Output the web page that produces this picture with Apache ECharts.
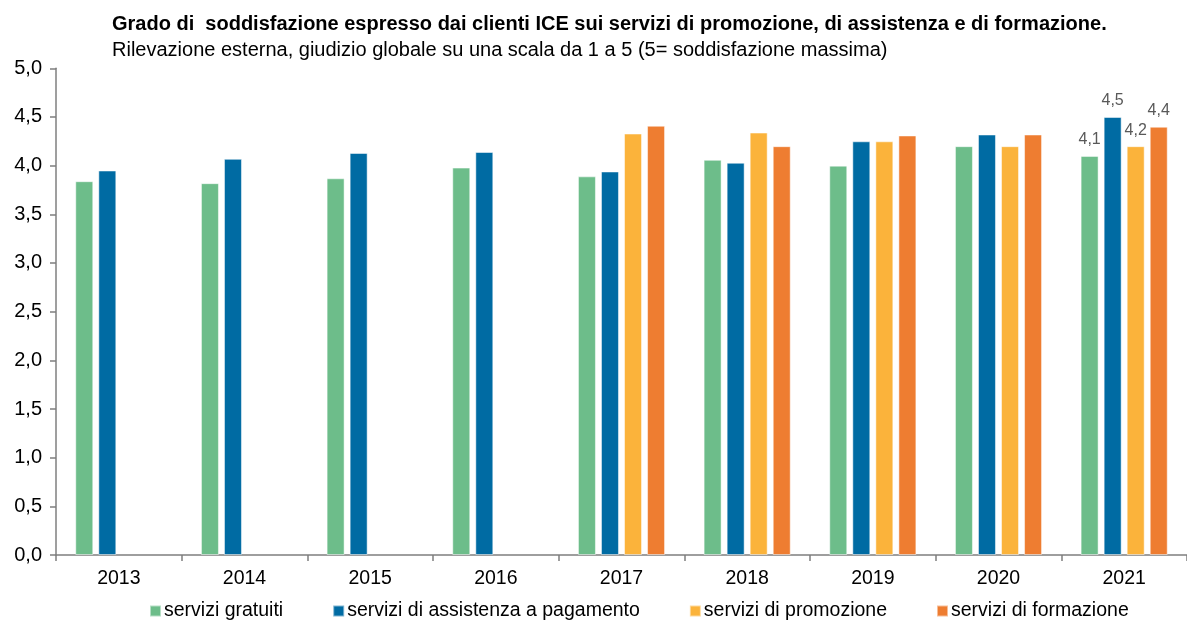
<!DOCTYPE html>
<html>
<head>
<meta charset="utf-8">
<script src="https://cdn.jsdelivr.net/npm/echarts@6/dist/echarts.min.js"></script>
<style>
  html, body { margin: 0; padding: 0; background: #fff; }
  #chart { width: 1187px; height: 624px; }
</style>
</head>
<body>
<div id="chart"></div>
<script>
// dati
const anni = ['2013', '2014', '2015', '2016', '2017', '2018', '2019', '2020', '2021'];
const gratuiti = [3.84, 3.82, 3.87, 3.98, 3.89, 4.06, 4.00, 4.20, 4.1];
const assistenza = [3.95, 4.07, 4.13, 4.14, 3.94, 4.03, 4.25, 4.32, 4.5];
const promozione = [null, null, null, null, 4.33, 4.34, 4.25, 4.20, 4.2];
const formazione = [null, null, null, null, 4.41, 4.20, 4.31, 4.32, 4.4];
const yTicks = [0, 0.5, 1, 1.5, 2, 2.5, 3, 3.5, 4, 4.5, 5];

const chart = echarts.init(document.getElementById('chart'));

const fmt = v => v.toFixed(1).replace('.', ',');

// etichette solo sull'ultimo anno
const mkSeries = (name, data, color) => ({
    name,
    type: 'bar',
    data: data.map((v, i) => ({
        value: v,
        label: {
            show: i === data.length - 1,
            position: 'top',
            distance: 8,
            color: '#595959',
            fontSize: 16,
            fontFamily: 'Liberation Sans',
            formatter: p => fmt(p.value)
        }
    })),
    barWidth: 18,
    barGap: '28%',
    itemStyle: { color, borderColor: 'rgba(255,255,255,0.5)', borderWidth: 1 }
});

const option = {
    animation: false,
    title: [{
        text: 'Grado di  soddisfazione espresso dai clienti ICE sui servizi di promozione, di assistenza e di formazione.',
        left: 107, top: 9,
        textStyle: { fontFamily: 'Liberation Sans', fontWeight: 'bold', fontSize: 20, color: '#000' }
    }, {
        text: 'Rilevazione esterna, giudizio globale su una scala da 1 a 5 (5= soddisfazione massima)',
        left: 107, top: 35,
        textStyle: { fontFamily: 'Liberation Sans', fontWeight: 'normal', fontSize: 20, color: '#000' }
    }],
    legend: {
        top: 596,
        left: 144,
        itemWidth: 11,
        itemHeight: 11,
        itemGap: 49,
        icon: 'rect',
        textStyle: { fontFamily: 'Liberation Sans', fontSize: 19.5, color: '#000', padding: [0, 0, 0, -2] }
    },
    grid: { left: 56, top: 68.3, width: 1137, height: 486.7, containLabel: false },
    xAxis: {
        type: 'category',
        data: anni,
        axisLine: { lineStyle: { color: '#7f7f7f', width: 1.5 } },
        axisTick: { show: true, alignWithLabel: false, length: 6, lineStyle: { color: '#7f7f7f', width: 1.5 } },
        axisLabel: { fontFamily: 'Liberation Sans', fontSize: 19.5, color: '#000', margin: 14 }
    },
    yAxis: {
        type: 'value',
        min: 0, max: 5, interval: 0.5,
        axisLine: { show: true, lineStyle: { color: '#7f7f7f', width: 1.5 } },
        axisTick: { show: true, length: 6, lineStyle: { color: '#7f7f7f', width: 1.5 } },
        splitLine: { show: false },
        axisLabel: {
            fontFamily: 'Liberation Sans', fontSize: 20, color: '#000', margin: 14,
            formatter: v => yTicks.includes(v) ? fmt(v) : ''
        }
    },
    series: [
        mkSeries('servizi gratuiti', gratuiti, '#6dbd8a'),
        mkSeries('servizi di assistenza a pagamento', assistenza, '#006ba3'),
        mkSeries('servizi di promozione', promozione, '#fbb33b'),
        mkSeries('servizi di formazione', formazione, '#ee7d31')
    ]
};

chart.setOption(option);
</script>
</body>
</html>
